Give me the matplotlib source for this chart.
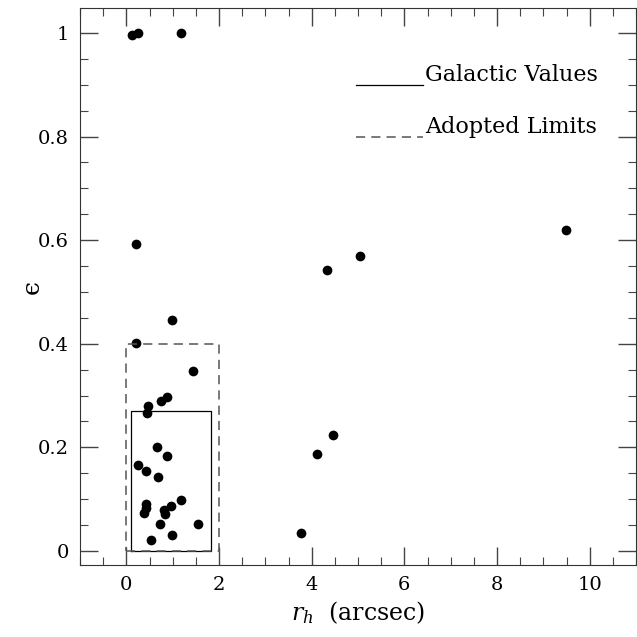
import matplotlib
matplotlib.use("Agg")
import matplotlib.pyplot as plt
from matplotlib.ticker import MultipleLocator

plt.rcParams["font.family"] = "DejaVu Serif"
plt.rcParams["mathtext.fontset"] = "dejavuserif"

# half-light radius (arcsec) and ellipticity
r_h = [0.12, 0.25, 1.18, 0.21, 0.98, 0.21,
       1.43, 0.87, 0.75, 0.47, 0.44, 0.67, 0.87, 0.26, 0.43, 0.69,
       1.18, 0.43, 0.43, 0.96, 0.82, 0.38, 0.83, 0.72, 1.55, 0.53, 0.99,
       9.48, 5.04, 4.34, 4.46, 4.11, 3.77]
eps = [0.996, 1.0, 1.0, 0.593, 0.446, 0.402,
       0.347, 0.298, 0.290, 0.280, 0.266, 0.200, 0.183, 0.166, 0.154, 0.143,
       0.098, 0.090, 0.084, 0.087, 0.079, 0.073, 0.071, 0.052, 0.053, 0.021, 0.030,
       0.620, 0.570, 0.542, 0.224, 0.187, 0.035]

# selection boxes: (r_min, r_max, eps_min, eps_max)
galactic_box = (0.09, 1.82, 0.0, 0.27)
adopted_box = (0.0, 2.0, 0.0, 0.40)

fig = plt.figure(figsize=(6.37, 6.37), dpi=100)
ax = fig.add_axes([0.1256, 0.113, 0.873, 0.8744])

ax.plot(r_h, eps, "o", color="black", markersize=7, markeredgewidth=0)

x0, x1, y0, y1 = galactic_box
ax.plot([x0, x1, x1, x0, x0], [y0, y0, y1, y1, y0], color="black", lw=0.9)
x0, x1, y0, y1 = adopted_box
ax.plot([x0, x1, x1, x0, x0], [y0, y0, y1, y1, y0], color="#555555", lw=1.1,
        dashes=(6, 4))

# legend drawn by hand
ax.plot([4.96, 6.4], [0.9, 0.9], color="black", lw=0.9)
ax.plot([4.96, 6.4], [0.8, 0.8], color="#555555", lw=1.1, dashes=(6, 4))
ax.text(6.45, 0.898, "Galactic Values", fontsize=16, va="bottom", ha="left")
ax.text(6.45, 0.798, "Adopted Limits", fontsize=16, va="bottom", ha="left")

ax.set_xlim(-1, 11)
ax.set_ylim(-0.027, 1.048)
ax.xaxis.set_major_locator(MultipleLocator(2))
ax.xaxis.set_minor_locator(MultipleLocator(0.5))
ax.yaxis.set_major_locator(MultipleLocator(0.2))
ax.yaxis.set_minor_locator(MultipleLocator(0.05))
ax.yaxis.set_major_formatter(plt.FuncFormatter(lambda v, p: "0" if abs(v) < 1e-9 else ("1" if abs(v - 1) < 1e-9 else f"{v:.1f}")))
ax.tick_params(which="both", direction="in", top=True, right=True,
               labelsize=14, color="#444444")
ax.tick_params(which="major", length=13, width=1.0, pad=8)
ax.tick_params(which="minor", length=6, width=0.8)
for s in ax.spines.values():
    s.set_color("#333333")

ax.set_xlabel("$r_h$  (arcsec)", fontsize=17)
ax.set_ylabel("\u03f5", fontsize=18, labelpad=-4)

fig.savefig("out.png", dpi=100)
